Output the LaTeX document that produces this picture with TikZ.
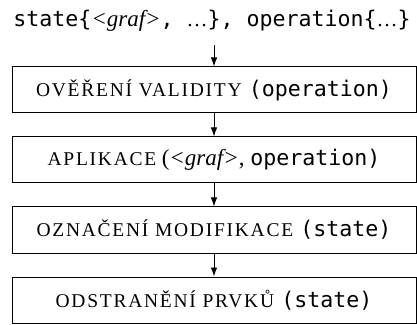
\documentclass[tikz,border=0pt]{standalone}
\usepackage{fontspec}
\setmainfont{Liberation Serif}
\setmonofont{DejaVu Sans Mono}
% caps-only face used for the step names (set in capitals at a reduced size)
\newfontfamily\stepcapsfont[LetterSpace=9]{Liberation Serif}
\newcommand{\stepname}[1]{{\fontsize{19.5}{26}\stepcapsfont #1}}
\newcommand{\serifpart}[1]{{\fontsize{23}{26}\selectfont #1}}
\newcommand{\etcdots}{{\fontsize{21}{26}\rmfamily …}}
\usetikzlibrary{arrows.meta}
\tikzset{
  stepbox/.style={draw, line width=1pt, minimum width=404pt, minimum height=46pt,
    inner sep=0pt, font=\fontsize{21.6}{26}\selectfont},
  headtext/.style={inner sep=0pt, font=\fontsize{21.6}{26}\selectfont},
  flow/.style={line width=0.9pt, -{Latex[length=9pt,width=6.5pt]}}
}
\begin{document}
\begin{tikzpicture}[x=1pt,y=1pt]
  \useasboundingbox (0,0) rectangle (417,324);
  % input line
  \node[headtext, anchor=base] (input) at (212,297)
    {\texttt{state\{}\serifpart{\textit{<graf>}}\texttt{, }\etcdots\texttt{\}, operation\{}\etcdots\texttt{\}}};
  \coordinate (inputend) at (214,279);
  % processing steps
  \node[stepbox] (validate) at (214,234) {\stepname{OVĚŘENÍ VALIDITY} \texttt{(operation)}};
  \node[stepbox] (apply)    at (214,164) {\stepname{APLIKACE} \serifpart{(\textit{<graf>}, }\texttt{operation)}};
  \node[stepbox] (mark)     at (214,94)  {\stepname{OZNAČENÍ MODIFIKACE} \texttt{(state)}};
  \node[stepbox] (remove)   at (214,24)  {\stepname{ODSTRANĚNÍ PRVKŮ} \texttt{(state)}};
  % connectors
  \draw[flow] (inputend) -- (validate);
  \draw[flow] (validate) -- (apply);
  \draw[flow] (apply) -- (mark);
  \draw[flow] (mark) -- (remove);
\end{tikzpicture}
\end{document}
